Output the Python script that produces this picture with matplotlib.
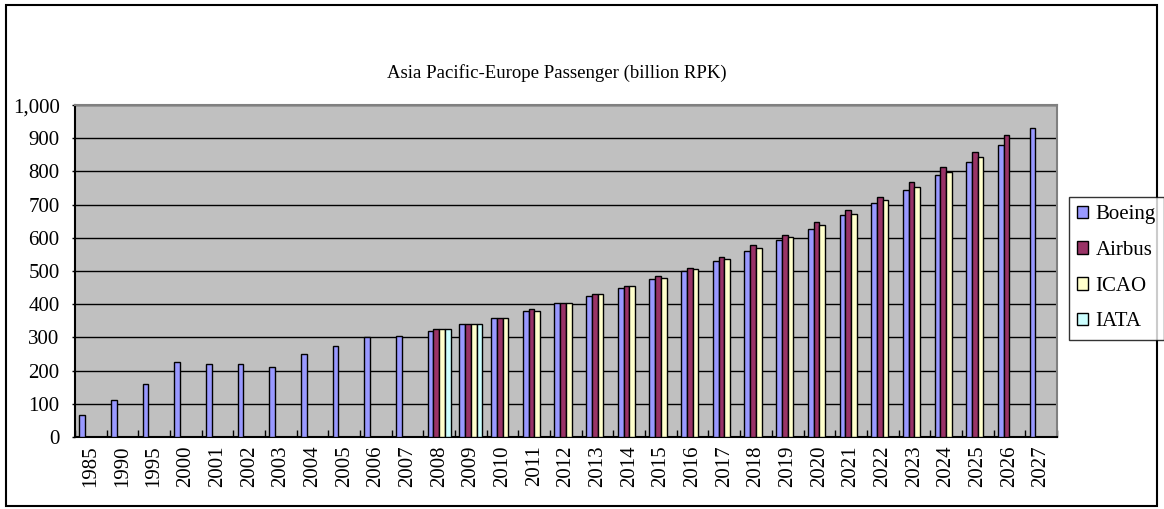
import numpy as np
import matplotlib.pyplot as plt
from matplotlib.patches import Rectangle
from matplotlib.ticker import FuncFormatter

years = ["1985", "1990", "1995"] + [str(y) for y in range(2000, 2028)]
nan = np.nan

boeing = [65, 110, 160, 225, 220, 220, 210, 250, 275, 300, 305,
          320, 340, 360, 380, 405, 425, 450, 475, 500, 530,
          560, 595, 628, 668, 704, 744, 789, 829, 879, 930]
airbus = [nan] * 11 + [325, 340, 360, 385, 405, 430, 455, 485, 510, 541,
                       578, 608, 648, 683, 724, 769, 814, 859, 910, nan]
icao = [nan] * 11 + [325, 340, 360, 380, 405, 430, 455, 480, 505, 535,
                     568, 603, 638, 673, 714, 754, 799, 844, nan, nan]
iata = [nan] * 11 + [325, 340] + [nan] * 18

series = [("Boeing", boeing, "#9999FF"),
          ("Airbus", airbus, "#993366"),
          ("ICAO", icao, "#FFFFCC"),
          ("IATA", iata, "#CCFFFF")]

plt.rcParams["font.family"] = ["Liberation Serif", "DejaVu Serif"]

fig = plt.figure(figsize=(11.64, 5.09), dpi=100)
ax = fig.add_axes([0.0644, 0.1415, 0.8436, 0.652])
ax.set_facecolor("#C0C0C0")

x = np.arange(len(years))
w = 1 / 5.5
for k, (name, vals, col) in enumerate(series):
    v = np.array(vals, dtype=float)
    m = ~np.isnan(v)
    ax.bar(x[m] + (k - 1.5) * w, v[m], width=w, color=col,
           edgecolor="black", linewidth=1.0, label=name, zorder=3)

ax.set_xlim(-0.5, len(years) - 0.5)
ax.set_ylim(0, 1000)
ax.set_yticks(np.arange(0, 1001, 100))
ax.yaxis.set_major_formatter(FuncFormatter(lambda v, p: f"{int(v):,}"))
ax.set_xticks(x)
ax.set_xticklabels(years, rotation=90)
ax.set_xticks(np.arange(-0.5, len(years)), minor=True)
ax.tick_params(axis="x", which="major", length=0, pad=6, labelsize=15)
ax.tick_params(axis="x", which="minor", direction="in", length=5, width=1)
ax.tick_params(axis="y", which="major", direction="out", length=2,
               width=1, labelsize=15, pad=9)
ax.grid(axis="y", color="black", linewidth=1.0, zorder=1)
ax.set_axisbelow(True)

for s in ("top", "right"):
    ax.spines[s].set_color("#808080")
    ax.spines[s].set_linewidth(1.5)
for s in ("left", "bottom"):
    ax.spines[s].set_color("black")
    ax.spines[s].set_linewidth(1.5)

fig.text(0.478, 0.857, "Asia Pacific-Europe Passenger (billion RPK)",
         ha="center", va="center", fontsize=13.5)

leg = fig.legend(loc="upper left", bbox_to_anchor=(0.918, 0.613),
                 fontsize=15, frameon=True, fancybox=False,
                 edgecolor="black", handlelength=0.55, handleheight=0.55,
                 handletextpad=0.35, labelspacing=0.8, borderpad=0.4,
                 borderaxespad=0)
leg.get_frame().set_linewidth(1.0)

fig.patches.append(Rectangle((0.005, 0.006), 0.989, 0.984,
                             transform=fig.transFigure, fill=False,
                             edgecolor="black", linewidth=1.5))

fig.savefig("out.png", dpi=100)
